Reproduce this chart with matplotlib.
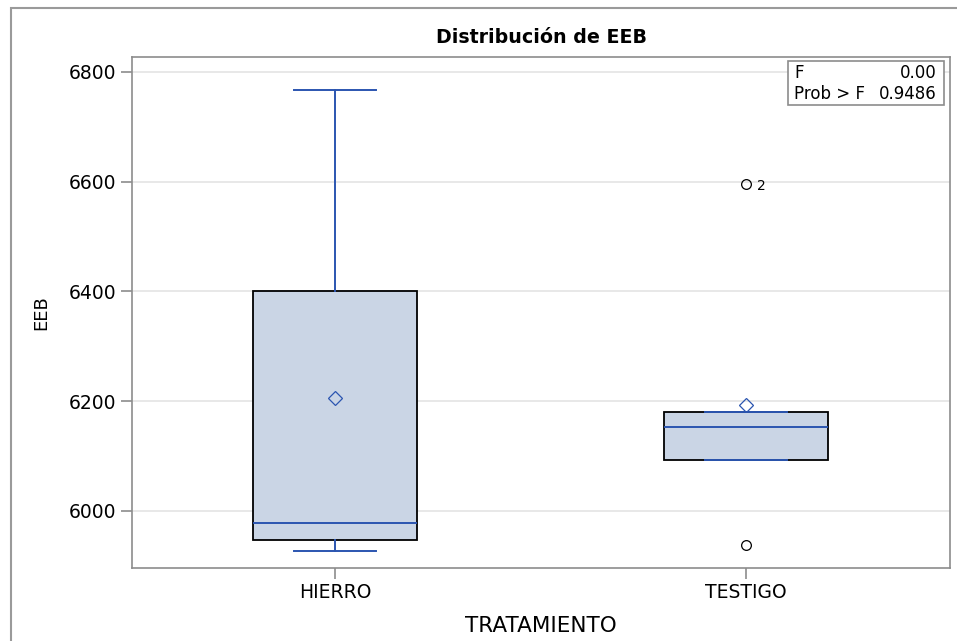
import matplotlib
matplotlib.use("Agg")
import matplotlib.pyplot as plt
from matplotlib.patches import Rectangle

plt.rcParams['font.family'] = ['DejaVu Sans']

# data
groups = ["HIERRO", "TESTIGO"]
whislo = [5927, 6093]
q1 = [5947, 6093]
med = [5978, 6153]
q3 = [6401, 6180]
whishi = [6767, 6180]
means = [6205, 6193]
outliers = [[], [6595, 5938]]
outlier_ids = [[], ["2", ""]]
f_value = "0.00"
prob_f = "0.9486"

blue = '#2b55b0'
stats = []
for i, g in enumerate(groups):
    stats.append(dict(label=g, whislo=whislo[i], q1=q1[i], med=med[i], q3=q3[i],
                      whishi=whishi[i], mean=means[i], fliers=outliers[i]))

fig = plt.figure(figsize=(9.57, 6.41), dpi=100)
ax = fig.add_axes([132/957, 1 - 568/641, 818/957, 511/641])

ax.bxp(stats, positions=[0, 1], widths=0.4, showmeans=True, patch_artist=True,
       boxprops=dict(facecolor='#cad5e5', edgecolor='black', linewidth=1.3),
       medianprops=dict(color=blue, linewidth=1.4),
       whiskerprops=dict(color=blue, linewidth=1.4),
       capprops=dict(color=blue, linewidth=1.4, zorder=5),
       capwidths=0.2,
       meanprops=dict(marker='D', markerfacecolor='none', markeredgecolor=blue,
                      markersize=7, markeredgewidth=0.9),
       flierprops=dict(marker='o', markerfacecolor='none', markeredgecolor='black',
                       markersize=7, markeredgewidth=0.9))

for i, ids in enumerate(outlier_ids):
    for val, lab in zip(outliers[i], ids):
        if lab:
            ax.annotate(lab, (i, val), xytext=(8, -1), textcoords='offset points',
                        va='center', ha='left', fontsize=10)

ax.set_xlim(-0.494, 1.496)
ax.set_ylim(5896, 6827)
ax.set_yticks([6000, 6200, 6400, 6600, 6800])
ax.yaxis.grid(True, color='#e4e4e4', linewidth=1.2)
ax.set_axisbelow(True)
for s in ax.spines.values():
    s.set_color('#8c8c8c')
    s.set_linewidth(1.2)
ax.tick_params(axis='both', colors='#8c8c8c', length=8, width=1.2, labelcolor='black',
               labelsize=13.5)
ax.tick_params(axis='x', pad=3)
ax.set_xticks([0, 1])
ax.set_xticklabels(groups)
ax.set_ylabel("EEB", fontsize=13, labelpad=13)
ax.set_xlabel("TRATAMIENTO", fontsize=15.5, labelpad=10)
ax.set_title("Distribución de EEB", fontsize=13.7, fontweight='bold', pad=10)

# stats inset
inset = Rectangle((788/957, 1 - 105/641), 156/957, 44/641, transform=fig.transFigure,
                  facecolor='white', edgecolor='#8c8c8c', linewidth=1.2, zorder=10)
fig.patches.append(inset)
fig.text(794/957, 1 - 73/641, "F", fontsize=12, va='center', ha='left', zorder=11)
fig.text(937/957, 1 - 73/641, f_value, fontsize=12, va='center', ha='right', zorder=11)
fig.text(794/957, 1 - 94/641, "Prob > F", fontsize=12, va='center', ha='left', zorder=11)
fig.text(937/957, 1 - 94/641, prob_f, fontsize=12, va='center', ha='right', zorder=11)

# outer frame
frame = Rectangle((11/957, -0.05), 1.1, 1 - 8/641 + 0.05, transform=fig.transFigure,
                  facecolor='none', edgecolor='#9a9a9a', linewidth=1.5)
fig.patches.append(frame)

fig.savefig("out.png", dpi=100)
